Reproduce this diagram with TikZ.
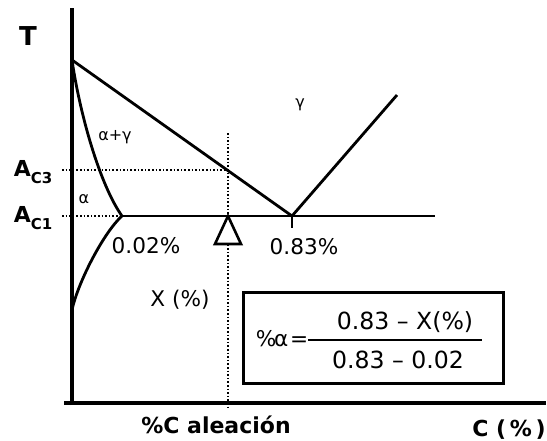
\documentclass[tikz,border=0pt]{standalone}
\usepackage{fontspec}
\setmainfont{DejaVu Sans}
\begin{document}
\begin{tikzpicture}[x=0.5pt,y=-0.5pt, line width=1pt,
  lbl/.style={inner sep=0pt, font=\fontsize{10.8}{12}\selectfont},
  fml/.style={inner sep=0pt, font=\fontsize{11.8}{13}\selectfont},
  bl/.style={inner sep=0pt, font=\bfseries\fontsize{11}{13}\selectfont},
  sm/.style={inner sep=0pt, font=\fontsize{8}{10}\selectfont},
  axis/.style={line width=1.7pt},
  guide/.style={densely dotted, line width=0.8pt},
  phase/.style={line width=1.4pt}]
\useasboundingbox (0,0) rectangle (547,440);
% key points
\coordinate (top) at (72,60);
\coordinate (eut) at (292,216);
\coordinate (gtop) at (397,95);
\coordinate (p02) at (122,216);
\coordinate (low) at (72,310);
\coordinate (ac3) at (227,170);
\coordinate (ac1l) at (62,216);
\coordinate (ac3l) at (62,170);
\coordinate (ac1r) at (435,216);
\coordinate (vtop) at (228,133);
\coordinate (vbot) at (228,410);
\coordinate (tri) at (228,216);
\coordinate (yax0) at (72,405);
\coordinate (yax1) at (72,8);
\coordinate (xax0) at (64,403);
\coordinate (xax1) at (546,403);
% axes
\draw[axis] (yax0) -- (yax1);
\draw[axis] (xax0) -- (xax1);
% guide lines
\draw[guide] (ac3l) -- (ac3);
\draw[guide] (ac1l) -- (p02);
\draw[guide] (vtop) -- (vbot);
\draw[phase] (p02) -- (ac1r);
% phase boundaries
\draw[phase] (top) -- (eut) -- (gtop);
\draw[phase] (top) .. controls (80,115) and (100,185) .. (p02);
\draw[phase] (p02) .. controls (104,232) and (78,282) .. (low);
\draw[line width=0.9pt] (eut) -- ++(0,12);
% marker triangle
\draw[line width=1.3pt, fill=white] (tri) -- ++(-13,28) -- ++(26,0) -- cycle;
% labels
\node[bl, font=\bfseries\fontsize{13}{15}\selectfont] (T) at (28,36) {T};
\node[bl] (Ac3) at (33,172) {A\raisebox{-0.3em}{\fontsize{7.5}{8}\selectfont C3}};
\node[bl] (Ac1) at (33,218) {A\raisebox{-0.3em}{\fontsize{7.5}{8}\selectfont C1}};
\node[sm] (la) at (84,199) {α};
\node[sm] (lag) at (115,137) {α+γ};
\node[sm] (lg) at (300,105) {γ};
\node[lbl] (c02) at (146,246) {0.02\%};
\node[lbl] (c83) at (304,247) {0.83\%};
\node[lbl] (xp) at (180,300) {X (\%)};
\node[bl] (cal) at (216,425) {\%C aleación};
\node[bl] (cp) at (509,430) {C (\,\%\,)};
% formula box
\node[draw, line width=1.5pt, minimum width=130pt, minimum height=45.5pt, inner sep=0pt] (box) at (373,337.5) {};
\node[inner sep=0pt, font=\fontsize{10.8}{12}\selectfont] (pa) at (282,339) {\%\kern-0.1emα\kern0.08em=};
\node[fml] (num) at (405,322) {0.83 – X(\%)};
\node[fml] (den) at (398,360) {0.83 – 0.02};
\coordinate (fl0) at (308,340);
\coordinate (fl1) at (482,340);
\draw[line width=1pt] (fl0) -- (fl1);
\end{tikzpicture}
\end{document}
